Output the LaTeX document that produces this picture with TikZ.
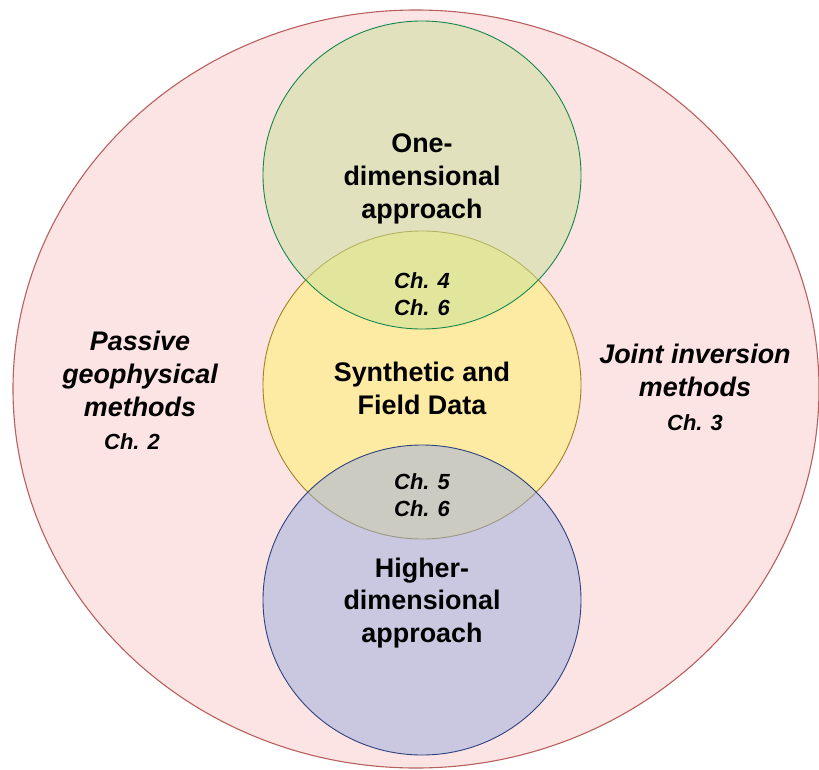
\documentclass[tikz,border=0pt]{standalone}
\usepackage{fontspec}
\setmainfont{Liberation Sans}
\usetikzlibrary{positioning}
\definecolor{outerfill}{RGB}{252,228,228}
\definecolor{outerline}{RGB}{185,95,95}
\definecolor{onefill}{RGB}{200,226,152}
\definecolor{oneline}{RGB}{20,135,75}
\definecolor{datafill}{RGB}{255,242,102}
\definecolor{dataline}{RGB}{160,130,40}
\definecolor{higherfill}{RGB}{154,172,222}
\definecolor{higherline}{RGB}{45,65,125}
\tikzset{
    venn/.style={line width=0.9bp, fill opacity=0.5},
    label/.style={align=center, font=\fontsize{27}{33}\selectfont\bfseries},
    sidelabel/.style={label, font=\fontsize{27}{33}\selectfont\bfseries\itshape},
    chlabel/.style={align=center, font=\fontsize{22}{27}\selectfont\bfseries\itshape, inner sep=0pt}
}
\begin{document}
\begin{tikzpicture}[x=1bp, y=-1bp]
    \useasboundingbox (0,0) rectangle (819,770);
    % Circles
    \fill [outerfill, draw=outerline, line width=1.1bp] (416,389) ellipse [x radius=403bp, y radius=379bp];
    \filldraw [venn, fill=datafill, draw=dataline] (422,385) ellipse [x radius=159bp, y radius=154bp];
    \filldraw [venn, fill=onefill, draw=oneline] (422,175) ellipse [x radius=159bp, y radius=154bp];
    \filldraw [venn, fill=higherfill, draw=higherline] (422,600) ellipse [x radius=159bp, y radius=155bp];

    % Labels
    \node [label] (one) at (422,179) {One-\\dimensional\\approach};
    \node [label] (data) at (422,388) {Synthetic and\\Field Data};
    \node [label] (higher) at (422,603) {Higher-\\dimensional\\approach};
    \node [chlabel] (onedata) at (422,294) {Ch. 4\\Ch. 6};
    \node [chlabel] (datahigher) at (422,495) {Ch. 5\\Ch. 6};

    \node [sidelabel] (passive) at (140,374) {Passive\\geophysical\\methods};
    \node [chlabel, below=13bp of passive.south, xshift=-8bp] (chtwo) {Ch. 2};
    \node [sidelabel] (joint) at (695,370) {Joint inversion\\methods};
    \node [chlabel, below=15bp of joint.south] (chthree) {Ch. 3};
\end{tikzpicture}
\end{document}
